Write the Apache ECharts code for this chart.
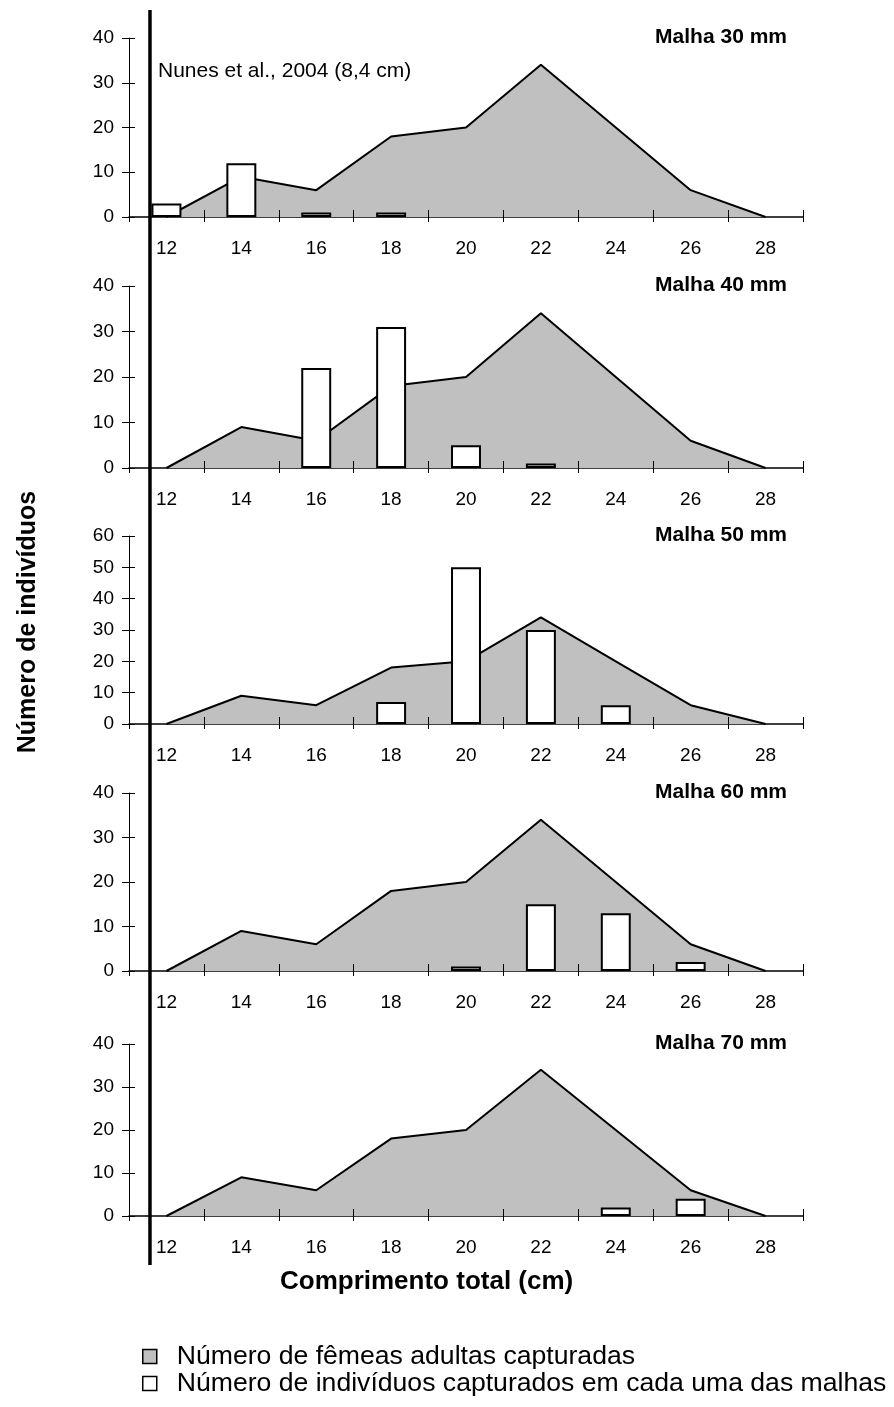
<!DOCTYPE html>
<html>
<head>
<meta charset="utf-8">
<script src="https://cdn.jsdelivr.net/npm/echarts@6/dist/echarts.min.js"></script>
<style>
  html, body { margin: 0; padding: 0; background: #fff; }
  #main { width: 894px; height: 1407px; }
</style>
</head>
<body>
<div id="main"></div>
<script>
// classes de comprimento (cm)
var classes = ['12', '14', '16', '18', '20', '22', '24', '26', '28'];
// fêmeas adultas capturadas (mesma curva em todos os painéis)
var femeas = [0, 9, 6, 18, 20, 34, 20, 6, 0];
// indivíduos capturados por malha
var malha30 = [3, 12, 1, 1, null, null, null, null, null];
var malha40 = [null, null, 22, 31, 5, 1, null, null, null];
var malha50 = [null, null, null, 7, 50, 30, 6, null, null];
var malha60 = [null, null, null, null, 1, 15, 13, 2, null];
var malha70 = [null, null, null, null, null, null, 2, 4, null];
var malhas = [malha30, malha40, malha50, malha60, malha70];
var titulos = ['Malha 30 mm', 'Malha 40 mm', 'Malha 50 mm', 'Malha 60 mm', 'Malha 70 mm'];
var yMax = [40, 40, 60, 40, 40];

var nomeArea = 'Número de fêmeas adultas capturadas';
var nomeBarra = 'Número de indivíduos capturados em cada uma das malhas';

var font = "'Liberation Sans', Arial, sans-serif";
var dom = document.getElementById('main');
var myChart = echarts.init(dom);

// layout of the five panels: top of the plot area and its height
var panels = [
    { top: 38, height: 179 },
    { top: 286, height: 182 },
    { top: 536, height: 188 },
    { top: 793, height: 178 },
    { top: 1044, height: 172 }
];

var grid = [], xAxis = [], yAxis = [], series = [], title = [];

panels.forEach(function (p, i) {
    grid.push({ left: 129, width: 674, top: p.top, height: p.height });
    // main x axis with labels, ticks below
    xAxis.push({
        type: 'category', gridIndex: i, data: classes, position: 'bottom',
        axisLine: { show: true, lineStyle: { color: '#000', width: 1.5 } },
        axisTick: { show: true, interval: 0, length: 5, lineStyle: { color: '#000', width: 1 } },
        axisLabel: { fontSize: 19, color: '#000', margin: 22, fontFamily: font, interval: 0 },
        splitLine: { show: false }
    });
    // twin x axis, only ticks above (drawn over the grey area)
    xAxis.push({
        type: 'category', gridIndex: i, data: classes, position: 'bottom', z: 3,
        axisLine: { show: false },
        axisTick: { show: true, interval: 0, inside: true, length: 7, lineStyle: { color: '#000', width: 1 } },
        axisLabel: { show: false },
        splitLine: { show: false }
    });
    yAxis.push({
        type: 'value', gridIndex: i, min: 0, max: yMax[i], interval: 10, position: 'left',
        axisLine: { show: true, lineStyle: { color: '#000', width: 1 } },
        axisTick: { show: true, length: 7, lineStyle: { color: '#000', width: 1 } },
        axisLabel: { fontSize: 19, color: '#000', margin: 15, fontFamily: font },
        splitLine: { show: false }
    });
    yAxis.push({
        type: 'value', gridIndex: i, min: 0, max: yMax[i], interval: 10, position: 'left',
        axisLine: { show: false },
        axisTick: { show: true, inside: true, length: 6, lineStyle: { color: '#000', width: 1 } },
        axisLabel: { show: false },
        splitLine: { show: false }
    });
    series.push({
        name: nomeArea, type: 'line', xAxisIndex: 2 * i, yAxisIndex: 2 * i,
        data: femeas, symbol: 'none', z: 2,
        lineStyle: { color: '#000', width: 2 },
        itemStyle: { color: '#c0c0c0' },
        areaStyle: { color: '#c0c0c0', opacity: 1 }
    });
    series.push({
        name: nomeBarra, type: 'bar', xAxisIndex: 2 * i, yAxisIndex: 2 * i,
        data: malhas[i], barWidth: '40%', z: 5,
        itemStyle: { color: '#fff', borderColor: '#000', borderWidth: 2 }
    });
    title.push({
        text: titulos[i], right: 107, top: p.top - 11, padding: 0,
        textStyle: { fontSize: 21, fontWeight: 'bold', color: '#000', fontFamily: font }
    });
});

var option = {
    backgroundColor: '#fff',
    animation: false,
    textStyle: { fontFamily: font },
    title: title,
    grid: grid,
    xAxis: xAxis,
    yAxis: yAxis,
    legend: {
        orient: 'vertical', left: 142, top: 1343, itemGap: 0, padding: 0,
        itemWidth: 14, itemHeight: 14, icon: 'rect', selectedMode: false,
        textStyle: { fontSize: 26.6, color: '#000', fontFamily: font, padding: [0, 0, 0, 15] },
        data: [
            { name: nomeArea, itemStyle: { color: '#c0c0c0', borderColor: '#000', borderWidth: 1.5 } },
            { name: nomeBarra, itemStyle: { color: '#fff', borderColor: '#000', borderWidth: 1.5 } }
        ]
    },
    series: series
};
myChart.setOption(option);

// marcador Nunes et al. (2004): linha vertical grossa a partir da primeira classe
var c0 = myChart.convertToPixel({ xAxisIndex: 0 }, 0);
var c1 = myChart.convertToPixel({ xAxisIndex: 0 }, 1);
var step = c1 - c0;
var mx = c0 - step / 2 + step * 0.28;

myChart.setOption({
    graphic: [
        { type: 'line', z: 100, shape: { x1: mx, y1: 10, x2: mx, y2: 1265 },
          style: { stroke: '#000', lineWidth: 3.5 } },
        { type: 'text', z: 100, left: mx + 8, top: 61,
          style: { text: 'Nunes et al., 2004 (8,4 cm)', fill: '#000', font: "21px " + font } },
        { type: 'text', z: 100, left: 280, top: 1269,
          style: { text: 'Comprimento total (cm)', fill: '#000', font: "bold 26px " + font } },
        { type: 'text', z: 100, x: 28, y: 622, rotation: Math.PI / 2,
          style: { text: 'Número de indivíduos', fill: '#000', font: "bold 25px " + font,
                   align: 'center', verticalAlign: 'middle' } }
    ]
});
</script>
</body>
</html>
